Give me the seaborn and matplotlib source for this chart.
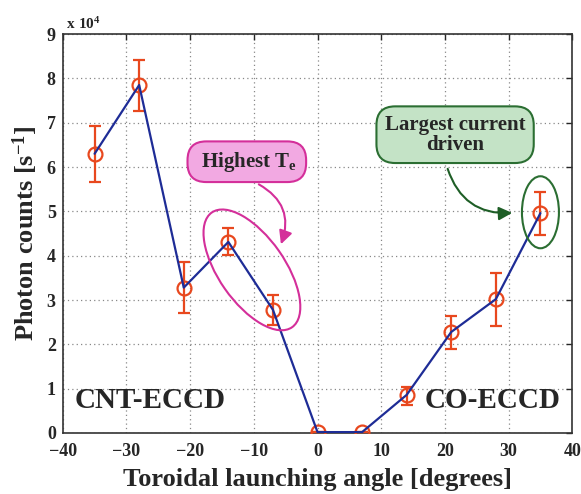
import numpy as np
import matplotlib
matplotlib.use("Agg")
import matplotlib.pyplot as plt
import seaborn as sns
from matplotlib.patches import Ellipse
from matplotlib.transforms import ScaledTranslation
from matplotlib.ticker import FuncFormatter

# ---- data ----
angles = [-35, -28, -21, -14, -7, 0, 7, 14, 21, 28, 35]
counts = [6.30e4, 7.85e4, 3.28e4, 4.31e4, 2.78e4, 0.02e4, 0.02e4, 0.86e4, 2.28e4, 3.02e4, 4.96e4]
err_upper = [6.93e4, 8.42e4, 3.86e4, 4.63e4, 3.12e4, 0.02e4, 0.02e4, 1.04e4, 2.64e4, 3.60e4, 5.44e4]
err_lower = [5.67e4, 7.27e4, 2.71e4, 4.02e4, 2.44e4, 0.02e4, 0.02e4, 0.63e4, 1.90e4, 2.42e4, 4.47e4]
x_ticks = [-40, -30, -20, -10, 0, 10, 20, 30, 40]
y_ticks = [0, 1e4, 2e4, 3e4, 4e4, 5e4, 6e4, 7e4, 8e4, 9e4]

sns.set_style("white")
plt.rcParams['font.family'] = ['Liberation Serif', 'DejaVu Serif']
plt.rcParams['mathtext.fontset'] = 'custom'
plt.rcParams['mathtext.rm'] = 'Liberation Serif:bold'
plt.rcParams['mathtext.it'] = 'Liberation Serif:bold'
plt.rcParams['mathtext.bf'] = 'Liberation Serif:bold'

fig = plt.figure(figsize=(5.81, 4.94), dpi=100)
ax = fig.add_axes([0.108, 0.1235, 0.877, 0.8075])

navy = "#1e2c96"
red = "#e8481e"

yerr = np.array([np.array(counts) - np.array(err_lower), np.array(err_upper) - np.array(counts)])
ax.errorbar(angles, counts, yerr=yerr, fmt='o', mfc='none', mec=red, ecolor=red,
            ms=10, mew=1.6, elinewidth=1.6, capsize=4, capthick=1.6, zorder=3)
sns.lineplot(x=angles, y=counts, color=navy, lw=1.6, ax=ax, zorder=4)

ax.set_xlim(-40, 40)
ax.set_ylim(0, 9e4)
ax.set_xticks(x_ticks)
ax.set_yticks(y_ticks)
ax.yaxis.set_major_formatter(FuncFormatter(lambda v, p: f"{v/1e4:.0f}"))
ax.xaxis.set_major_formatter(FuncFormatter(lambda v, p: f"{v:.0f}".replace("-", "\u2212")))
ax.tick_params(direction='in', top=True, right=True, length=4, width=1, labelsize=13)
ax.tick_params(axis='x', pad=7)
ax.tick_params(axis='y', pad=5)
for lab in ax.get_xticklabels() + ax.get_yticklabels():
    lab.set_fontweight('bold')
ax.grid(True, linestyle=(0, (1, 2.5)), color='#888888', lw=0.9)
for s in ax.spines.values():
    s.set_color('#333333')
    s.set_linewidth(1.2)

ax.set_xlabel("Toroidal launching angle [degrees]", fontsize=19, fontweight='bold', labelpad=6)
ax.set_ylabel("Photon counts [s$^{-1}$]", fontsize=19, fontweight='bold', labelpad=5)
ax.text(0.0, 1.005, " x 10$^{4}$", transform=ax.transAxes, fontsize=11, fontweight='bold',
        ha='left', va='bottom')

ax.text(-38.2, 0.42e4, "CNT-ECCD", fontsize=21, fontweight='bold', ha='left', va='bottom')
ax.text(38.2, 0.42e4, "CO-ECCD", fontsize=21, fontweight='bold', ha='right', va='bottom')

# Highest Te box
ax.text(-11.1, 6.12e4, " Highest T$_\\mathrm{e}$ ", fontsize=15, fontweight='bold', ha='center', va='center',
        zorder=6,
        bbox=dict(boxstyle="round,pad=0.4,rounding_size=0.9", fc="#f2a9e2", ec="#d42f9a", lw=1.5))
# green box
ax.text(21.6, 6.73e4, "Largest current\ndriven", fontsize=15, fontweight='bold', ha='center', va='center',
        linespacing=1.0, zorder=6,
        bbox=dict(boxstyle="round,pad=0.4,rounding_size=0.9", fc="#c4e3c6", ec="#2b6e32", lw=1.5))

# ellipses in inches centered at data points
pink_c = (-10.3, 3.68e4)
e1 = Ellipse((0, 0), 1.40, 0.66, angle=-55, fill=False, ec="#d42f9a", lw=1.5,
             transform=fig.dpi_scale_trans + ScaledTranslation(pink_c[0], pink_c[1], ax.transData), zorder=5)
ax.add_patch(e1)
green_c = (35.0, 4.98e4)
e2 = Ellipse((0, 0), 0.37, 0.72, angle=0, fill=False, ec="#2b6e32", lw=1.5,
             transform=fig.dpi_scale_trans + ScaledTranslation(green_c[0], green_c[1], ax.transData), zorder=5)
ax.add_patch(e2)

# arrows
ax.annotate("", xy=(-5.9, 4.2e4), xytext=(-9.6, 5.64e4),
            arrowprops=dict(arrowstyle="-|>,head_length=0.8,head_width=0.4", color="#d42f9a", lw=1.5,
                            connectionstyle="arc3,rad=-0.45"), zorder=6)
ax.annotate("", xy=(31.0, 4.97e4), xytext=(20.3, 6.02e4),
            arrowprops=dict(arrowstyle="-|>,head_length=0.8,head_width=0.4", color="#1e5e26", lw=1.5,
                            connectionstyle="arc3,rad=0.4"), zorder=6)

fig.savefig("out.png", dpi=100)
